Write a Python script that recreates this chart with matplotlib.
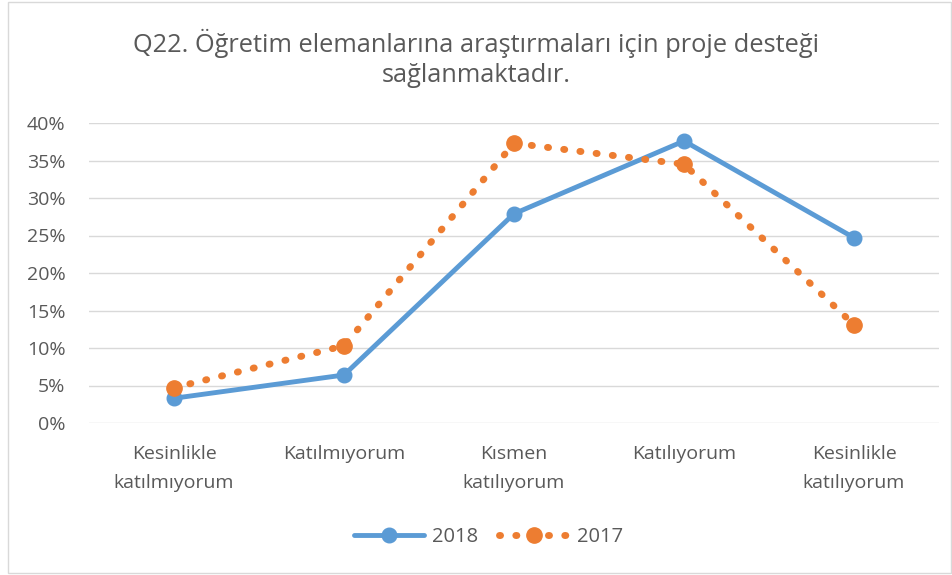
import numpy as np
import matplotlib.pyplot as plt
from matplotlib.ticker import PercentFormatter
import matplotlib.patches as patches

plt.rcParams['font.family'] = ['Open Sans', 'DejaVu Sans']

kategoriler = ['Kesinlikle\nkatılmıyorum', 'Katılmıyorum', 'Kısmen\nkatılıyorum',
               'Katılıyorum', 'Kesinlikle\nkatılıyorum']
y2018 = [3.3, 6.4, 27.9, 37.6, 24.7]
y2017 = [4.7, 10.3, 37.3, 34.5, 13.1]

mavi = '#5b9bd5'
turuncu = '#ed7d31'
gri = '#595959'

fig = plt.figure(figsize=(9.53, 5.75), dpi=100)
fig.patches.append(patches.Rectangle((0.008, 0.003), 0.99, 0.994, transform=fig.transFigure,
                                     fill=False, edgecolor='#d9d9d9', linewidth=1))
ax = fig.add_axes([89/953, (575-423)/575, 850/953, 300/575])

x = np.arange(len(kategoriler))
ax.plot(x, y2018, color=mavi, linewidth=3.5, marker='o', markersize=10.5,
        solid_capstyle='round', label='2018', zorder=3)
l17, = ax.plot(x, y2017, color=turuncu, linewidth=5, linestyle=(0, (0.15, 2.2)),
               marker='o', markersize=11, label='2017', zorder=4)
l17.set_dash_capstyle('round')

ax.set_xlim(-0.5, 4.5)
ax.set_ylim(0, 40)
ax.set_yticks(np.arange(0, 41, 5))
ax.yaxis.set_major_formatter(PercentFormatter(decimals=0))
ax.set_xticks(x)
ax.set_xticklabels(kategoriler)
ax.grid(axis='y', color='#d9d9d9', linewidth=1)
ax.set_axisbelow(True)
for s in ax.spines.values():
    s.set_visible(False)
ax.tick_params(axis='both', length=0, labelsize=14, colors=gri)
ax.tick_params(axis='x', pad=16)
ax.tick_params(axis='y', pad=17)
for lbl in ax.get_xticklabels():
    lbl.set_linespacing(1.75)

fig.text(0.5, 0.898, 'Q22. Öğretim elemanlarına araştırmaları için proje desteği\nsağlanmaktadır.',
         ha='center', va='center', fontsize=18.3, color=gri, linespacing=1.25)

ax.legend(loc='center', bbox_to_anchor=(0.47, -0.38), ncol=2, frameon=False,
          fontsize=14.5, labelcolor=gri, handlelength=3.5, columnspacing=1.0, handletextpad=0.4)

fig.savefig('out.png', dpi=100)
